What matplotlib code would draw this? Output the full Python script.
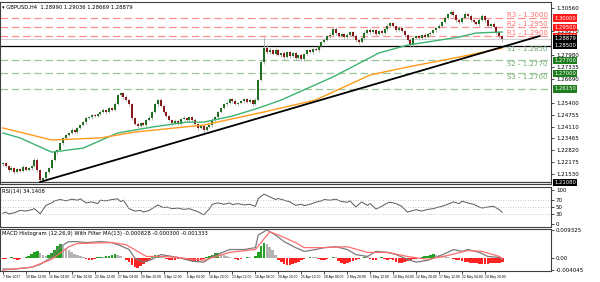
import matplotlib
matplotlib.use("Agg")
import matplotlib.pyplot as plt
import matplotlib.transforms as mtransforms
import numpy as np

# GBPUSD H4 - price values are pips above 1.2000
BASE = 1.2

closes = [
    213, 196, 175, 186, 164, 180, 169, 191, 175, 186, 196, 229, 175, 120, 131, 164, 186, 229, 272, 283, 321, 349, 365, 376, 392,
    381, 403, 419, 435, 457, 462, 473, 468, 479, 490, 501, 490, 511, 501, 533, 582, 593, 571, 555, 533, 457, 425, 414, 430, 419,
    446, 457, 490, 533, 555, 522, 490, 468, 446, 430, 441, 425, 452, 457, 446, 462, 446, 425, 403, 414, 392, 408, 419, 446, 462,
    490, 511, 533, 539, 560, 549, 533, 539, 549, 560, 544, 555, 533, 555, 663, 761, 837, 815, 826, 805, 826, 799, 810, 788, 815,
    794, 810, 783, 799, 777, 805, 826, 815, 832, 826, 848, 870, 881, 902, 908, 940, 919, 902, 913, 897, 908, 924, 902, 881, 870,
    891, 919, 935, 924, 935, 913, 929, 919, 940, 957, 973, 957, 935, 946, 929, 908, 881, 859, 891, 902, 891, 908, 897, 913, 919,
    935, 946, 957, 978, 1000, 1022, 1033, 1016, 989, 978, 1000, 1022, 1011, 989, 978, 967, 989, 1011, 989, 957, 967, 951, 924, 902, 888,
]
first_open = 205
wick_up = [
    6, 8, 5, 9, 4, 7, 6, 10, 5, 8, 6, 11, 9, 4, 6, 8, 5, 7, 9, 6, 8, 5, 7, 6, 9,
    5, 8, 6, 7, 10, 6, 5, 8, 7, 6, 9, 5, 8, 6, 12, 7, 5, 8, 9, 6, 7, 5, 10, 6, 8,
    7, 9, 5, 8, 6, 10, 7, 6, 8, 5, 9, 7, 6, 10, 8, 5, 7, 9, 6, 8, 5, 7, 6, 9, 8,
    6, 7, 5, 9, 8, 6, 10, 7, 5, 8, 6, 9, 7, 12, 8, 10, 60, 14, 9, 7, 10, 8, 6, 9, 7,
    8, 6, 10, 7, 9, 5, 8, 7, 6, 9, 8, 6, 10, 7, 12, 8, 9, 6, 8, 7, 10, 6, 8, 9, 7,
    6, 8, 5, 9, 7, 8, 6, 10, 7, 9, 8, 6, 7, 9, 8, 5, 7, 9, 10, 6, 8, 7, 9, 6, 8,
    7, 6, 9, 8, 10, 7, 12, 8, 6, 9, 8, 11, 7, 9, 6, 8, 10, 9, 7, 8, 6, 9, 7, 5, 6,
]
wick_dn = [
    7, 5, 9, 6, 8, 5, 7, 6, 8, 6, 9, 7, 10, 10, 8, 6, 9, 7, 5, 8, 6, 9, 7, 5, 8,
    6, 9, 7, 5, 8, 6, 10, 7, 6, 8, 5, 9, 7, 6, 8, 5, 7, 9, 8, 10, 8, 6, 9, 7, 5,
    8, 6, 9, 7, 10, 6, 8, 5, 7, 9, 6, 8, 7, 5, 9, 6, 8, 7, 10, 6, 12, 7, 5, 8, 6,
    9, 7, 6, 8, 5, 10, 7, 9, 6, 8, 7, 5, 9, 6, 8, 7, 10, 8, 9, 6, 8, 7, 10, 9, 6,
    9, 7, 10, 6, 8, 12, 7, 5, 9, 6, 8, 10, 7, 6, 9, 8, 12, 7, 6, 9, 10, 7, 8, 10, 9,
    7, 9, 6, 8, 7, 10, 6, 8, 7, 9, 6, 8, 9, 7, 5, 10, 8, 16, 9, 7, 8, 6, 9, 7, 8,
    6, 9, 7, 8, 5, 7, 6, 9, 10, 8, 7, 6, 9, 8, 10, 7, 8, 6, 9, 8, 10, 7, 9, 12, 20,
]

# moving averages (bar, pips)
green_ma_bars = [0, 6, 17, 28, 40, 52, 64, 70, 80, 89, 97, 115, 131, 141, 148, 159, 165, 174]
green_ma = [376, 349, 272, 294, 376, 408, 435, 435, 468, 511, 555, 680, 810, 853, 870, 897, 919, 924]
orange_ma_bars = [0, 17, 34, 46, 70, 91, 109, 128, 141, 159, 174]
orange_ma = [403, 338, 349, 381, 419, 490, 555, 691, 734, 788, 837]

# rising trendline (bar, pips)
trend_bars = [13, 187]
trend_pips = [110, 902]

res_levels = [1.3000, 1.2950, 1.2900]
res_names = ["R3", "R2", "R1"]
sup_levels = [1.2850, 1.2770, 1.2700]
sup_names = ["S1", "S2", "S3"]
extra_level = 1.2615
bid = 1.28879
low_line = 1.2108

price_ticks = [1.21530, 1.22175, 1.22820, 1.23465, 1.24110, 1.24755, 1.25400,
               1.26690, 1.27335, 1.27980, 1.29270, 1.30560]

# RSI(14) (bar, value)
rsi_bars = [0, 1, 2, 4, 6, 8, 10, 11, 13, 15, 17, 18, 20, 22, 24, 26, 27, 29, 31, 33, 34, 36, 38, 40, 41, 42,
            44, 46, 48, 49, 51, 54, 56, 57, 59, 61, 63, 65, 66, 68, 70, 72, 73, 75, 77, 79, 80, 82, 84, 86, 88,
            89, 91, 93, 95, 96, 98, 100, 102, 104, 105, 107, 109, 111, 112, 114, 116, 118, 120, 121, 123, 125,
            127, 128, 130, 132, 134, 135, 137, 139, 141, 143, 144, 146, 148, 150, 151, 153, 155, 157, 159, 160,
            162, 164, 166, 167, 169, 171, 173, 174]
rsi_vals = [32, 35, 30, 33, 40, 38, 42, 45, 30, 55, 62, 68, 72, 68, 73, 70, 74, 62, 65, 60, 70, 68, 72, 74, 66, 70,
            45, 38, 40, 35, 40, 56, 48, 50, 45, 47, 43, 45, 42, 36, 27, 45, 58, 62, 58, 62, 57, 60, 56, 58, 52,
            75, 88, 80, 72, 75, 70, 65, 55, 58, 54, 58, 64, 68, 72, 70, 73, 66, 64, 68, 50, 65,
            55, 60, 44, 52, 62, 64, 60, 52, 35, 40, 42, 38, 43, 45, 48, 52, 58, 65, 60, 67,
            62, 58, 50, 47, 50, 52, 42, 34]

# MACD main and signal (bar, value x1e-4)
macd_bars = [0, 4, 10, 13, 17, 20, 23, 26, 29, 34, 38, 41, 44, 46, 49, 52, 55, 57, 61, 66, 70, 73, 79, 84, 88,
             89, 92, 95, 98, 102, 105, 109, 112, 116, 120, 123, 127, 130, 134, 137, 141, 144, 148, 151, 155,
             157, 160, 162, 166, 169, 173, 174]
macd_vals = [-34, -34, -28, -19, 3, 37, 53, 53, 50, 53, 50, 40, 28, 0, -12, -3, 12, 9, 3, -9, -12, 6, 28, 28, 34,
             74, 90, 74, 53, 34, 22, 28, 34, 37, 28, 12, 6, 22, 19, 12, -3, -12, -6, 3, 19,
             28, 22, 28, 19, 6, 3, -3]
sig_bars = [0, 10, 17, 23, 26, 38, 43, 47, 50, 56, 61, 66, 70, 79, 88, 93, 96, 102, 105, 112, 120, 127, 134,
            141, 148, 155, 162, 167, 173, 174]
sig_vals = [-37, -28, -3, 37, 47, 50, 43, 22, 6, 6, 3, -3, -6, 19, 28, 84, 74, 50, 34, 34, 37, 19, 19,
            6, -3, 9, 25, 22, 6, 0]
hist = [
    -3, -2, 2, 3, -2, -4, -3, 2, 4,
    8, 14, 20, 22, 18, 12, 8,
    10, 18, 28, 38, 45, 40, 34, 26,
    20, 14, 10, 6, 4, -3, -5,
    -4, -2, 3, 5, 4, 6, 8, 12, 15, 10,
    6, 2, -4, -10,
    -20, -28, -30, -25, -18, -10,
    -5, 4, 10, 12, 8, 3,
    -3, -5, -4, -6, -3, 2, -2, -4, -6, -8,
    -10, -8, -5, -2,
    4, 8, 12, 16, 18, 15, 10, 6, 3,
    2, -2, -4, -3, 2, 4, 3, 2, 6,
    20, 38, 50, 45, 35, 25, 12,
    -5, -12, -18, -20, -22, -18, -15, -10, -6,
    -3, 2, 5, 4, 3, -2, -4, -5, -3, 2, 4, 3,
    -8, -14, -18, -16, -12, -8, -4, -2,
    2, 5, 4, -3, -5, -4, 2, 3, -2, -4, -3,
    -6, -10, -14, -16, -12, -8, -5, -3, -2, 2, 4,
    6, 9, 12, 14, 12, 10, 8, 6, 4, 2,
    -2, -4, -6, -8, -10, -12, -14, -15, -16, -17, -18, -18, -17, -16, -15, -14, -14, -13,
]

dates = ["7 Mar 2017", "10 Mar 12:00", "15 Mar 04:00", "17 Mar 20:00", "22 Mar 12:00", "27 Mar 04:00",
         "29 Mar 20:00", "3 Apr 12:00", "6 Apr 04:00", "10 Apr 20:00", "13 Apr 12:00", "18 Apr 04:00",
         "20 Apr 20:00", "25 Apr 12:00", "28 Apr 04:00", "2 May 20:00", "5 May 12:00", "10 May 04:00",
         "12 May 20:00", "17 May 12:00", "22 May 04:00", "24 May 20:00"]


def px(p):
    return BASE + np.asarray(p, dtype=float) / 10000.0


fig = plt.figure(figsize=(6.0, 2.82), dpi=100)
W = 551 / 600
ax = fig.add_axes([0, 98 / 282, W, 182 / 282])
ax_rsi = fig.add_axes([0, 55 / 282, W, 40 / 282])
ax_macd = fig.add_axes([0, 11 / 282, W, 42 / 282])

XLIM = (-1, 191)


def tag(a, y, txt, fc, z=5):
    tr = mtransforms.blended_transform_factory(a.transAxes, a.transData)
    a.text(1.006, y, txt, transform=tr, fontsize=3.8, color="white", ha="left", va="center",
           clip_on=False, zorder=z, bbox=dict(boxstyle="square,pad=0.2", fc=fc, ec="none"))


# ---- main price panel
n = len(closes)
x = np.arange(n)
c = px(closes)
o = np.r_[px(first_open), c[:-1]]
hi = np.maximum(o, c) + np.array(wick_up) / 10000.0
lo = np.minimum(o, c) - np.array(wick_dn) / 10000.0
up = c >= o

ax.vlines(x, lo, hi, color="#a8a8a8", lw=0.6, zorder=3)
ax.vlines(x[up], o[up], c[up], color="#1d6b1d", lw=1.4, zorder=4)
ax.vlines(x[~up], o[~up], c[~up], color="#8a1414", lw=1.4, zorder=4)

ax.plot(green_ma_bars, px(green_ma), color="#3cb371", lw=1.0, zorder=5)
ax.plot(orange_ma_bars, px(orange_ma), color="#ff9a1a", lw=1.0, zorder=5)
ax.plot(trend_bars, px(trend_pips), color="black", lw=1.3, zorder=6)

lt = mtransforms.blended_transform_factory(ax.transAxes, ax.transData)
for lv, nm in zip(res_levels, res_names):
    ax.axhline(lv, color="#ff9090", lw=0.9, ls=(0, (6, 3)), zorder=2)
    ax.text(0.994, lv + 0.0002, f"{nm} - {lv:.4f}", transform=lt, ha="right", va="bottom",
            fontsize=5, color="#ff7070")
for i, (lv, nm) in enumerate(zip(sup_levels, sup_names)):
    if i == 0:
        ax.axhline(lv, color="black", lw=0.9, zorder=2)
    else:
        ax.axhline(lv, color="#9ac79a", lw=0.9, ls=(0, (6, 3)), zorder=2)
    ax.text(0.994, lv - 0.0002, f"{nm} - {lv:.4f}", transform=lt, ha="right", va="top",
            fontsize=5, color="#6aa86a")
ax.axhline(extra_level, color="#9ac79a", lw=0.9, ls=(0, (6, 3)), zorder=2)
ax.axhline(bid, color="#c8c8c8", lw=0.6, zorder=1)
ax.axhline(low_line, color="#404040", lw=0.9, zorder=2)

ax.set_xlim(*XLIM)
ax.set_ylim(1.2099, 1.3087)
ax.set_xticks([])
ax.yaxis.tick_right()
ax.set_yticks(price_ticks)
ax.set_yticklabels([f"{t:.5f}" for t in price_ticks])
ax.tick_params(axis="y", labelsize=4, length=2, pad=1.5, width=0.5)

for lv in res_levels:
    tag(ax, lv, f"{lv:.5f}", "#ff1a1a")
tag(ax, sup_levels[0], f"{sup_levels[0]:.5f}", "black")
tag(ax, bid, f"{bid:.5f}", "black", z=6)
for lv in sup_levels[1:] + [extra_level]:
    tag(ax, lv, f"{lv:.5f}", "#1e7d1e")
tag(ax, low_line, f"{low_line:.5f}", "black")

ax.text(0.004, 0.985, "\u25be GBPUSD,H4  1.28990 1.29036 1.28669 1.28879", transform=ax.transAxes,
        fontsize=3.8, va="top", ha="left")

# ---- RSI panel
ax_rsi.plot(rsi_bars, rsi_vals, color="#585858", lw=0.7)
for lv in (70, 50, 30):
    ax_rsi.axhline(lv, color="#b8b8b8", lw=0.6, ls=(0, (1, 2)))
ax_rsi.set_xlim(*XLIM)
ax_rsi.set_ylim(-8.8, 108.8)
ax_rsi.set_xticks([])
ax_rsi.yaxis.tick_right()
ax_rsi.set_yticks([100, 70, 50, 30, 0])
ax_rsi.tick_params(axis="y", labelsize=4, length=2, pad=1.5, width=0.5)
ax_rsi.text(0.004, 0.95, "RSI(14) 34.1408", transform=ax_rsi.transAxes, fontsize=3.8, va="top")

# ---- MACD panel
hv = np.array(hist) / 10000.0
prev = np.r_[hv[0], hv[:-1]]
cols = np.where(hv < 0, "#ff2222", np.where(hv >= prev, "#22a022", "#b4b4b4"))
ax_macd.bar(x, hv, width=0.9, color=cols, lw=0)
ax_macd.plot(macd_bars, np.array(macd_vals) / 10000.0, color="#7a7a7a", lw=0.9)
ax_macd.plot(sig_bars, np.array(sig_vals) / 10000.0, color="#ff6e6e", lw=0.9)
ax_macd.set_xlim(*XLIM)
ax_macd.set_ylim(-0.0040, 0.0093)
ax_macd.yaxis.tick_right()
ax_macd.set_yticks([0.0091, 0.0, -0.0038])
ax_macd.set_yticklabels(["0.009325", "0.00", "-0.004045"])
ax_macd.tick_params(axis="y", labelsize=4, length=2, pad=1.5, width=0.5)
ax_macd.set_xticks(range(0, 8 * len(dates), 8))
ax_macd.set_xticklabels(dates, ha="left", fontfamily="Liberation Sans")
ax_macd.tick_params(axis="x", labelsize=2.4, length=2, pad=1.2, width=0.5)
ax_macd.text(0.004, 0.95, "MACD Histogram (12,26,9) With Filter MA(13) -0.000828 -0.000300 -0.001333",
             transform=ax_macd.transAxes, fontsize=3.8, va="top")

for a in (ax, ax_rsi, ax_macd):
    for s in a.spines.values():
        s.set_color("#404040")
        s.set_linewidth(0.8)

fig.savefig("out.png", dpi=100)
